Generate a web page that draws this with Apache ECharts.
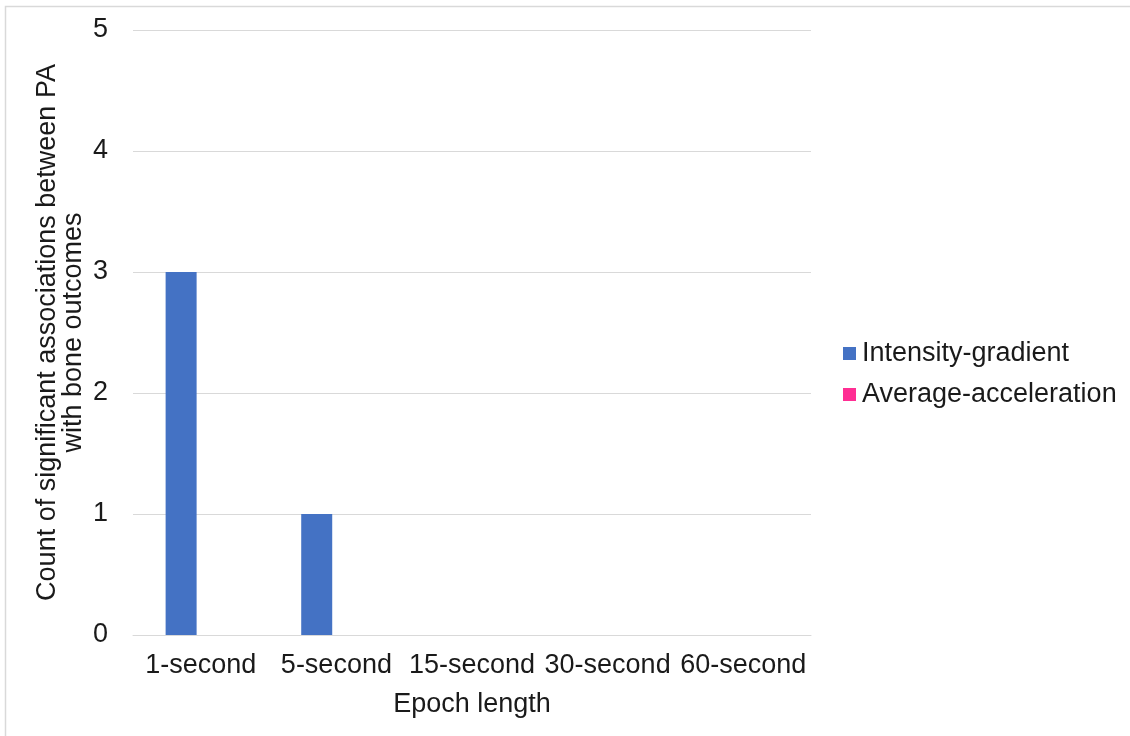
<!DOCTYPE html>
<html>
<head>
<meta charset="utf-8">
<script src="https://cdn.jsdelivr.net/npm/echarts@6/dist/echarts.min.js"></script>
<style>
  html, body { margin: 0; padding: 0; background: #fff; }
  #chart { width: 1130px; height: 736px; }
</style>
</head>
<body>
<div id="chart"></div>
<script>
// Epoch lengths on the x axis
const categories = ['1-second', '5-second', '15-second', '30-second', '60-second'];
// Counts of significant PA–bone associations per metric
const intensityGradient = [3, 1, 0, 0, 0];
const averageAcceleration = [0, 0, 0, 0, 0];
const yTicks = [0, 1, 2, 3, 4, 5];

const FONT = '"Liberation Sans", Arial, Helvetica, sans-serif';
const TEXT = '#1a1a1a';
const FS = 27;

const chart = echarts.init(document.getElementById('chart'), null, { renderer: 'canvas' });

chart.setOption({
  backgroundColor: '#ffffff',
  animation: false,
  textStyle: { fontFamily: FONT, color: TEXT },
  graphic: [{
    type: 'rect',
    shape: { x: 5.5, y: 6.5, width: 1200, height: 800 },
    style: { fill: 'none', stroke: '#d9d9d9', lineWidth: 1.5 },
    silent: true,
    z: -10
  }],
  grid: { left: 133, right: 319, top: 30, bottom: 101, containLabel: false },
  legend: {
    orient: 'vertical',
    left: 843,
    top: 340,
    padding: 0,
    itemWidth: 13,
    itemHeight: 13,
    itemGap: 14,
    icon: 'rect',
    textStyle: { fontSize: FS, lineHeight: 27, color: TEXT, fontFamily: FONT, padding: [0, 0, 0, 1] },
    data: ['Intensity-gradient', 'Average-acceleration']
  },
  xAxis: {
    type: 'category',
    data: categories,
    name: 'Epoch length',
    nameLocation: 'middle',
    nameGap: 56,
    nameMoveOverlap: false,
    nameTextStyle: { fontSize: FS, color: TEXT, fontFamily: FONT },
    axisLine: { show: true, lineStyle: { color: '#d9d9d9', width: 1 } },
    axisTick: { show: false },
    axisLabel: { fontSize: FS, color: TEXT, fontFamily: FONT, margin: 17, interval: 0 }
  },
  yAxis: {
    type: 'value',
    min: yTicks[0],
    max: yTicks[yTicks.length - 1],
    interval: 1,
    name: 'Count of significant associations between PA\nwith bone outcomes',
    nameLocation: 'middle',
    nameRotate: 90,
    nameGap: 46,
    nameMoveOverlap: false,
    nameTextStyle: { fontSize: FS, color: TEXT, fontFamily: FONT, lineHeight: 26 },
    axisLine: { show: false },
    axisTick: { show: false },
    axisLabel: { fontSize: FS, color: TEXT, fontFamily: FONT, margin: 25 },
    splitLine: { show: true, lineStyle: { color: '#d9d9d9', width: 1 } }
  },
  series: [
    {
      name: 'Intensity-gradient',
      type: 'bar',
      data: intensityGradient,
      barWidth: 31,
      barGap: '27%',
      itemStyle: { color: '#4472C4' }
    },
    {
      name: 'Average-acceleration',
      type: 'bar',
      data: averageAcceleration,
      barWidth: 31,
      itemStyle: { color: '#FF2E93' }
    }
  ]
});
</script>
</body>
</html>
